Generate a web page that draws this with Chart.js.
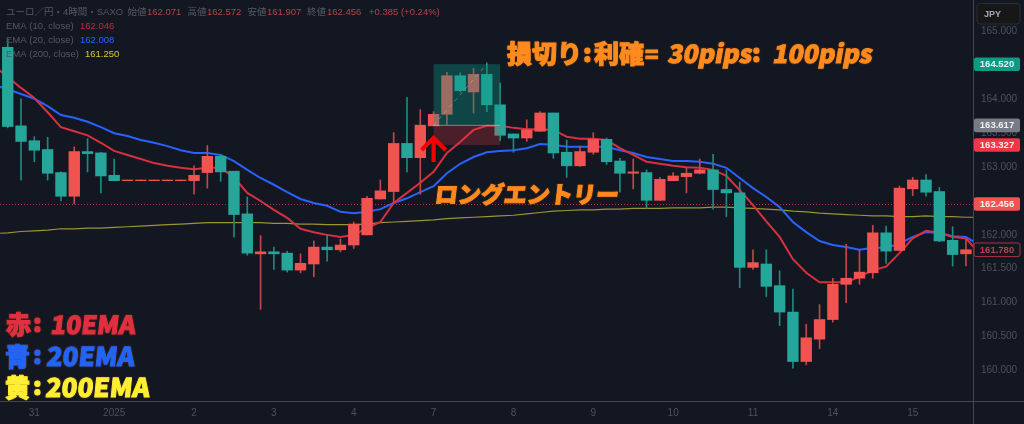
<!DOCTYPE html>
<html><head><meta charset="utf-8">
<style>html,body{margin:0;padding:0;background:#131722;overflow:hidden}canvas{display:block}</style>
<script src="https://cdn.jsdelivr.net/npm/chart.js@4"></script>
</head><body><canvas id="c" width="1024" height="424"></canvas>
<script>
const opens=[164.77,163.61,163.39,163.26,162.92,162.57,163.23,163.21,162.88,162.80,162.80,162.80,162.80,162.80,162.80,162.92,163.16,162.94,162.31,161.72,161.75,161.73,161.48,161.57,161.82,161.78,161.85,162.00,162.53,162.64,163.35,163.14,163.61,163.78,164.35,164.11,164.37,163.92,163.49,163.43,163.53,163.80,163.22,163.02,163.22,163.41,163.09,162.91,162.92,162.51,162.80,162.86,162.91,162.96,162.67,162.62,161.52,161.57,161.25,160.86,160.13,160.46,160.75,161.27,161.36,161.44,162.03,161.77,162.68,162.81,162.64,161.92,161.72];
const closes=[163.60,163.38,163.25,162.91,162.57,163.23,163.20,162.87,162.80,162.81,162.81,162.81,162.81,162.81,162.88,163.16,162.93,162.30,161.73,161.75,161.72,161.48,161.58,161.82,161.78,161.85,162.16,162.54,162.65,163.35,163.14,163.62,163.78,164.35,164.13,164.37,163.92,163.47,163.43,163.55,163.80,163.21,163.02,163.23,163.41,163.08,162.91,162.93,162.51,162.82,162.87,162.91,162.96,162.67,162.62,161.52,161.59,161.24,160.86,160.13,160.48,160.75,161.27,161.36,161.45,162.03,161.76,162.69,162.81,162.63,161.91,161.71,161.78];
const highs=[164.89,164.01,163.45,163.44,162.93,163.30,163.42,163.22,163.12,162.81,162.81,162.81,162.81,162.81,163.02,163.32,163.19,162.94,162.56,161.99,161.82,161.76,161.72,161.91,162.00,161.94,162.19,162.57,162.81,163.51,164.03,163.85,163.82,164.40,164.39,164.46,164.54,164.24,163.49,163.70,163.82,163.80,163.40,163.31,163.51,163.43,163.13,163.12,162.96,162.85,162.92,162.99,163.12,163.19,162.96,162.78,161.78,161.78,161.47,161.20,160.68,160.97,161.36,161.86,161.78,162.14,162.13,162.72,162.85,162.89,162.70,162.12,161.95];
const lows=[163.58,162.81,163.08,162.81,162.50,162.46,162.93,162.62,162.80,162.80,162.80,162.80,162.80,162.80,162.60,162.69,162.79,161.97,161.70,160.90,161.49,161.45,161.44,161.38,161.61,161.75,161.80,162.00,162.53,162.49,162.93,162.60,163.61,163.63,164.11,163.80,163.82,163.39,163.22,163.38,163.53,163.13,162.85,163.01,163.19,163.04,162.63,162.68,162.39,162.51,162.80,162.62,162.90,162.38,162.27,161.22,161.49,161.09,160.66,160.03,160.08,160.32,160.71,161.00,161.27,161.36,161.58,161.77,162.58,162.57,161.90,161.54,161.54];
// EMA values start one bar before the first candle and end one bar after the last (cut off by the frame)
const ema10=[164.49,164.33,164.17,164.02,163.81,163.59,163.53,163.47,163.36,163.24,163.18,163.12,163.06,163.02,162.99,162.97,162.99,162.99,162.85,162.62,162.50,162.37,162.25,162.09,162.04,162.00,161.97,162.00,162.10,162.19,162.47,162.62,162.77,162.93,163.21,163.37,163.55,163.61,163.61,163.58,163.56,163.56,163.55,163.45,163.42,163.42,163.40,163.28,163.18,163.08,163.05,163.02,163.00,162.99,162.96,162.87,162.66,162.44,162.20,161.97,161.64,161.44,161.30,161.30,161.30,161.38,161.48,161.53,161.73,161.95,162.06,162.03,161.97,161.95,161.73];
const ema20=[164.21,164.15,164.08,164.01,163.90,163.77,163.73,163.67,163.59,163.50,163.46,163.40,163.36,163.31,163.25,163.21,163.21,163.18,163.09,162.96,162.84,162.74,162.63,162.53,162.47,162.43,162.34,162.32,162.34,162.38,162.47,162.54,162.63,162.72,162.91,163.05,163.15,163.22,163.24,163.25,163.28,163.34,163.33,163.30,163.30,163.30,163.30,163.25,163.21,163.15,163.12,163.09,163.09,163.08,163.05,162.99,162.84,162.69,162.56,162.41,162.19,162.04,161.91,161.85,161.82,161.78,161.81,161.81,161.87,161.97,162.04,162.03,161.98,161.97,161.85];
const ema200=[162.02,162.03,162.05,162.06,162.07,162.09,162.09,162.10,162.10,162.11,162.12,162.13,162.14,162.15,162.16,162.17,162.18,162.18,162.18,162.18,162.18,162.17,162.17,162.16,162.16,162.15,162.15,162.15,162.16,162.18,162.19,162.20,162.21,162.22,162.24,162.25,162.26,162.27,162.28,162.29,162.31,162.33,162.35,162.36,162.37,162.37,162.38,162.38,162.39,162.39,162.39,162.40,162.40,162.40,162.41,162.41,162.40,162.39,162.38,162.37,162.35,162.34,162.32,162.31,162.30,162.29,162.28,162.28,162.27,162.27,162.28,162.27,162.27,162.26,162.26];
const xTickBars=[2,8,14,20,26,32,38,44,50,56,62,68];
const xTickLabels=["31","2025","2","3","4","7","8","9","10","11","14","15"];
const yTicks=[160,160.5,161,161.5,162,163,163.5,164,165];
const targetPrice=164.520, entryPrice=163.617, stopPrice=163.327, lastPrice=162.456, emaLastPrice=161.780;
const toolStartBar=32, toolEndBar=37;

const GREEN='#26a69a', RED='#f05350';
const bars=opens.map((_,i)=>i);
const up=bars.map(i=>closes[i]>=opens[i]);
const emaPts=a=>a.map((y,i)=>({x:i-1,y}));

const JP="'Noto Sans CJK JP'";
function bigText(ctx,s,x,y,font,fill,skew){
  ctx.save();ctx.translate(x,y);if(skew)ctx.transform(1,0,-skew,1,0,0);
  ctx.font=font;ctx.textBaseline='alphabetic';ctx.textAlign='left';ctx.lineJoin='round';
  ctx.lineWidth=3;ctx.strokeStyle='rgba(50,35,25,.85)';ctx.strokeText(s,0,0);
  ctx.lineWidth=1;ctx.strokeStyle=fill;ctx.strokeText(s,0,0);
  ctx.fillStyle=fill;ctx.fillText(s,0,0);ctx.restore();
}
const overlays={id:'overlays',
 beforeDraw(ch){const c=ch.ctx;c.save();c.fillStyle='#131722';c.fillRect(0,0,1024,424);c.restore();},
 beforeDatasetsDraw(ch){const c=ch.ctx,y=ch.scales.y,a=ch.chartArea;c.save();
  c.strokeStyle='#a8343c';c.lineWidth=1;c.setLineDash([1,2]);c.beginPath();
  const py=Math.round(y.getPixelForValue(lastPrice))+.5;c.moveTo(a.left,py);c.lineTo(a.right,py);c.stroke();c.restore();},
 afterDatasetsDraw(ch){const c=ch.ctx,x=ch.scales.x,y=ch.scales.y;c.save();
  const l=x.getPixelForValue(toolStartBar),r=x.getPixelForValue(toolEndBar);
  const t=y.getPixelForValue(targetPrice),m=y.getPixelForValue(entryPrice),b=y.getPixelForValue(stopPrice);
  c.fillStyle='rgba(8,153,129,.36)';c.fillRect(l,t,r-l,m-t);
  c.fillStyle='rgba(242,54,69,.25)';c.fillRect(l,m,r-l,b-m);
  c.strokeStyle='rgba(200,200,200,.55)';c.lineWidth=1;c.beginPath();c.moveTo(l,m);c.lineTo(r,m);c.stroke();
  c.setLineDash([4,4]);c.strokeStyle='rgba(200,200,200,.4)';c.beginPath();c.moveTo(l,m);c.lineTo(x.getPixelForValue(36),t);c.stroke();c.setLineDash([]);
  // arrow at the entry bar
  const ax=x.getPixelForValue(toolStartBar);
  c.strokeStyle='#f40000';c.lineWidth=4.2;c.lineCap='butt';c.lineJoin='miter';c.beginPath();
  c.moveTo(ax,162);c.lineTo(ax,139);c.moveTo(ax-12,150);c.lineTo(ax,138);c.lineTo(ax+12,150);c.stroke();
  c.restore();},
 afterDraw(ch){const c=ch.ctx;c.save();
  // frame lines
  c.strokeStyle='#434651';c.lineWidth=1;c.beginPath();c.moveTo(973.5,0);c.lineTo(973.5,424);c.moveTo(0,401.5);c.lineTo(1024,401.5);c.stroke();
  // header
  c.textBaseline='middle';c.textAlign='left';
  const dim='#565963',txt=(s,x,y,col,f)=>{c.font=f||("10px "+JP);c.fillStyle=col;c.fillText(s,x,y);};
  const sans="9.5px 'Liberation Sans',"+JP;
  txt('ユーロ／円・4時間・SAXO',6,12.5,dim,sans);
  [['始値','162.071',127.5,147],['高値','162.572',187.5,207],['安値','161.907',247.5,267],['終値','162.456',307,327]].forEach(r=>{
    txt(r[0],r[2],12.5,dim,sans);txt(r[1],r[3],12.5,'#b8424a',sans);});
  txt('+0.385 (+0.24%)',369,12.5,'#b8424a',sans);
  txt('EMA (10, close)',6,26,dim,sans);txt('162.046',80,26,'#c22b3e',sans);
  txt('EMA (20, close)',6,40,dim,sans);txt('162.008',80,40,'#2962ff',sans);
  txt('EMA (200, close)',6,54,dim,sans);txt('161.250',85,54,'#d8c832',sans);
  // price labels
  const label=(v,bg,fg,border)=>{const py=ch.scales.y.getPixelForValue(v);
    c.beginPath();c.roundRect(974,py-6.8,46,13.6,2);c.fillStyle=bg;c.fill();
    if(border){c.strokeStyle=border;c.lineWidth=1;c.stroke();}
    c.fillStyle=fg;c.font="bold 9.5px 'Liberation Sans'";c.textAlign='center';c.textBaseline='middle';c.fillText(v.toFixed(3),997,py+.5);};
  label(targetPrice,'#0e9a84','#e8eef0');
  label(entryPrice,'#787b86','#eef0f2');
  label(stopPrice,'#f23645','#fbeeee');
  label(lastPrice,'#f05350','#fbeeee');
  label(emaLastPrice,'#131722','#b8424a','#a8343c');
  // currency box
  c.beginPath();c.roundRect(977,3.5,43,20.5,3);c.fillStyle='#171717';c.fill();c.strokeStyle='#2a2d35';c.lineWidth=1;c.stroke();
  c.fillStyle='#a8abb4';c.font="bold 9px 'Liberation Sans'";c.textAlign='left';c.textBaseline='middle';c.fillText('JPY',984,14.5);
  // big annotations
  const heavy=s=>"900 "+s+"px "+JP;
  const OR='#ff8a1e';
  bigText(c,'損切り',507,63,heavy(25),OR);
  bigText(c,':',583,62,heavy(25),OR);
  bigText(c,'利確',594,63,heavy(25),OR);
  bigText(c,'=',645,63,heavy(22),OR);
  bigText(c,'30pips',667,63,heavy(25),OR,.18);
  bigText(c,':',752,62,heavy(25),OR);
  bigText(c,'100pips',772,63,heavy(25),OR,.18);
  bigText(c,'ロングエントリー',434,203,heavy(23),OR,.12);
  bigText(c,'赤',6,334,heavy(25),'#e03040');
  bigText(c,':',33,332,heavy(25),'#e03040');
  bigText(c,'10EMA',50,334,heavy(25),'#e03040',.12);
  bigText(c,'青',5,366,heavy(25),'#2464f4');
  bigText(c,':',33,364,heavy(25),'#2464f4');
  bigText(c,'20EMA',46,366,heavy(26),'#2464f4',.1);
  bigText(c,'黄',5,397,heavy(25),'#ffee33');
  bigText(c,':',33,395,heavy(25),'#ffee33');
  bigText(c,'200EMA',45,397,heavy(26),'#ffee33',.1);
  c.restore();}
};
new Chart(document.getElementById('c'),{
 data:{datasets:[
  {type:'line',label:'EMA 200',data:emaPts(ema200),borderColor:'#9a9433',borderWidth:1.2,pointRadius:0,tension:0,order:5},
  {type:'line',label:'EMA 20',data:emaPts(ema20),borderColor:'#2962ff',borderWidth:2,pointRadius:0,tension:0,order:4},
  {type:'line',label:'EMA 10',data:emaPts(ema10),borderColor:'#d8303f',borderWidth:2,pointRadius:0,tension:0,order:3},
  {type:'bar',label:'wick',data:bars.map(i=>({x:i,y:[lows[i],highs[i]]})),barThickness:1,grouped:false,
    backgroundColor:bars.map(i=>up[i]?'#c2474b':'#1f8a80'),order:2},
  {type:'bar',label:'body',data:bars.map(i=>({x:i,y:[opens[i],closes[i]]})),barThickness:10.7,grouped:false,
    backgroundColor:bars.map(i=>up[i]?RED:GREEN),order:1}
 ]},
 options:{responsive:false,animation:false,events:[],devicePixelRatio:1,
  layout:{padding:0,autoPadding:false},
  plugins:{legend:{display:false},tooltip:{enabled:false}},
  scales:{
   x:{type:'linear',min:-0.58,max:72.53,offset:false,
    grid:{display:false,drawTicks:false},border:{display:false},
    afterFit(s){s.height=23;s.paddingLeft=0;s.paddingRight=0;},
    afterBuildTicks(s){s.ticks=xTickBars.map(v=>({value:v}));},
    ticks:{autoSkip:false,maxRotation:0,padding:6,color:'#4f525c',font:{size:10,family:'Liberation Sans'},
      callback(v){return xTickLabels[xTickBars.indexOf(v)];}}},
   y:{type:'linear',position:'right',min:159.547,max:165.468,
    grid:{display:false,drawTicks:false},border:{display:false},
    afterFit(s){s.width=51;s.paddingTop=0;s.paddingBottom=0;},
    afterBuildTicks(s){s.ticks=yTicks.map(v=>({value:v}));},
    ticks:{autoSkip:false,padding:8,color:'#4f525c',font:{size:10,family:'Liberation Sans'},
      callback(v){return v.toFixed(3);}}}
  }},
 plugins:[overlays]
});
</script></body></html>
